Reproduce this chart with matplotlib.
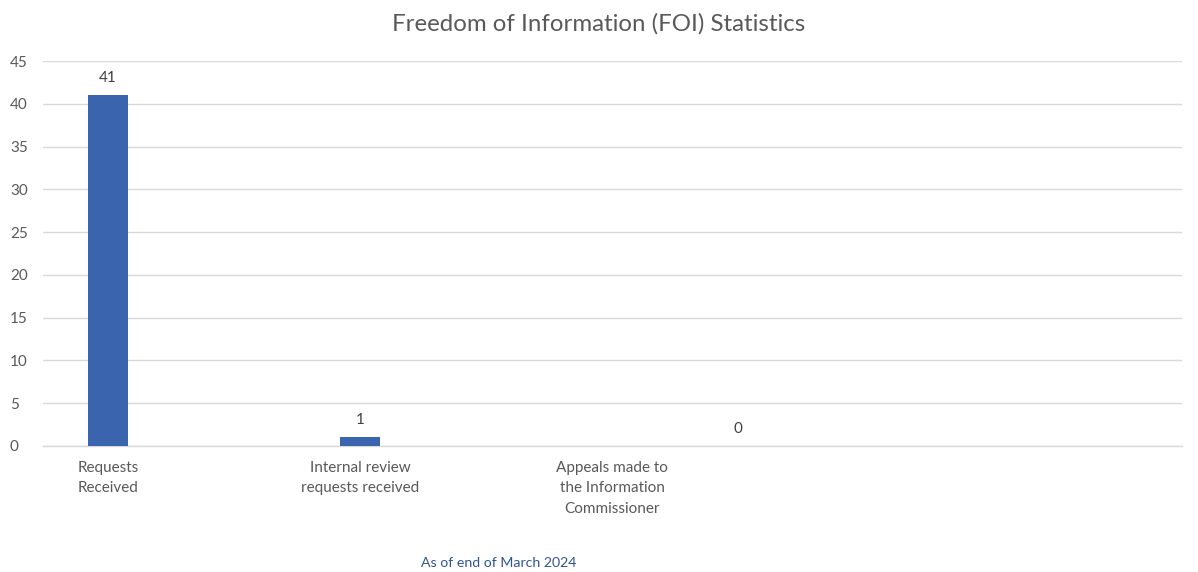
import matplotlib
matplotlib.use("Agg")
import matplotlib.pyplot as plt

title = "Freedom of Information (FOI) Statistics"
categories = ["Requests\nReceived", "Internal review\nrequests received",
              "Appeals made to\nthe Information\nCommissioner"]
values = [41, 1, 0]
yticks = [0, 5, 10, 15, 20, 25, 30, 35, 40, 45]
footnote = "As of end of March 2024"

plt.rcParams['font.family'] = ['Lato', 'DejaVu Sans']
TXT = "#595959"

fig = plt.figure(figsize=(11.98, 5.72), dpi=100)
ax = fig.add_axes([0.0359, 0.2203, 0.9508, 0.673])

x = list(range(len(values)))
ax.bar(x, values, width=0.159, color="#3A64AD", zorder=3)

for xi, v in zip(x, values):
    lx = xi + 0.5 if v == 0 else xi
    ax.annotate(str(v), (lx, v), xytext=(0, 7.5), textcoords="offset points",
                ha="center", va="bottom", fontsize=11, color="#404040")

ax.set_xlim(-0.258, 4.262)
ax.set_ylim(0, 45)
ax.set_yticks(yticks)
ax.set_xticks(x)
ax.set_xticklabels(categories, fontsize=11, color=TXT, linespacing=1.62)
ax.tick_params(axis='both', length=0, labelsize=11, colors=TXT)
ax.tick_params(axis='x', pad=10.5)
ax.tick_params(axis='y', pad=23.8)
for lab in ax.get_yticklabels():
    lab.set_horizontalalignment('left')
ax.grid(axis='y', color="#D9D9D9", linewidth=1, zorder=0)
ax.axhline(0, color="#D9D9D9", linewidth=1, zorder=1, clip_on=False)
for s in ax.spines.values():
    s.set_visible(False)

fig.text(0.5, 0.958, title, ha="center", va="center", fontsize=17.3, color=TXT)
fig.text(0.4165, 0.016, footnote, ha="center", va="center", fontsize=10.2, color="#2F5597")

fig.savefig("out.png", dpi=100)
